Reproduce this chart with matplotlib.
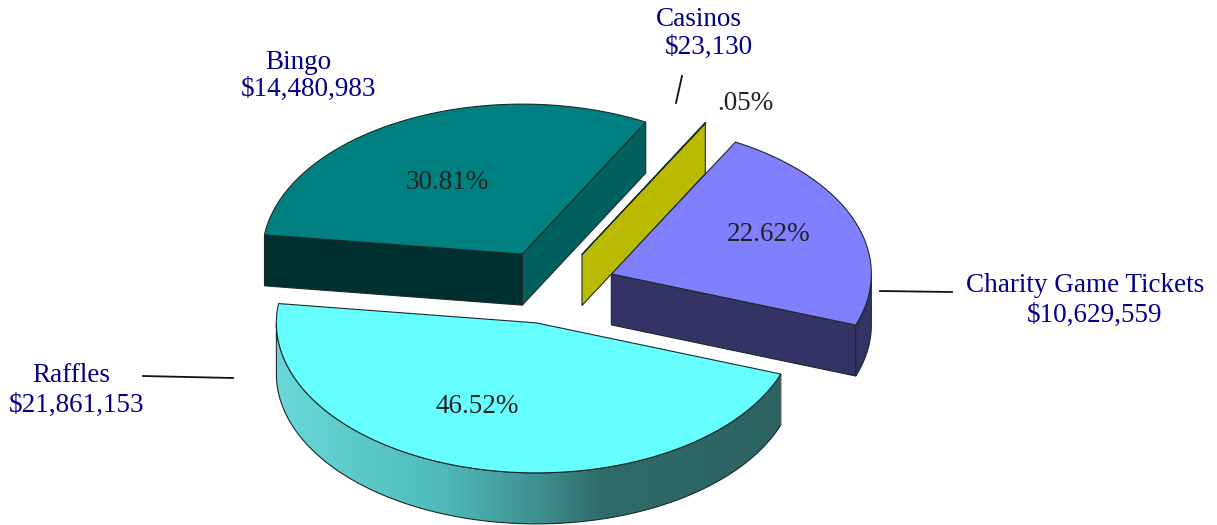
import numpy as np
import matplotlib
matplotlib.use("Agg")
import matplotlib.pyplot as plt
from matplotlib.colors import LinearSegmentedColormap
from matplotlib.patches import Polygon

plt.rcParams['font.family'] = ['Liberation Serif', 'DejaVu Serif']

# order goes round the pie counter clockwise in math terms
categories = ["Raffles", "Charity Game Tickets", "Casinos", "Bingo"]
amounts = [21861153, 10629559, 23130, 14480983]
pct_labels = ["46.52%", "22.62%", ".05%", "30.81%"]
amount_labels = ["$21,861,153", "$10,629,559", "$23,130", "$14,480,983"]

# pie layout in pixels
CX, CY = 551.5, 287
RX, RY = 260, 150
DEPTH = 51
EXPLODE = 64
START = 172.6
EDGE = "#1c2a2a"

top_colors = ["#66ffff", "#8080ff", "#baba00", "#008080"]
start_side = ["#66ffff", "#333366", "#baba00", "#006060"]
end_side = ["#66ffff", "#333366", "#baba00", "#003030"]
wall_colors = [None, "#333366", "#baba00", "#008080"]


def ell(t, ax_x, ax_y):
    t = np.radians(t)
    return np.column_stack([ax_x + RX * np.cos(t), ax_y - RY * np.sin(t)])


def drop(pts):
    return pts + np.array([0, DEPTH])


def draw_slice(ax, i, t0, t1):
    mid = np.radians((t0 + t1) / 2)
    ox = CX + EXPLODE * np.cos(mid)
    oy = CY - EXPLODE * RY / RX * np.sin(mid)
    apex = np.array([[ox, oy]])
    ts = np.linspace(t0, t1, 200)
    arc = ell(ts, ox, oy)

    # flat faces, only the ones looking at us
    a0 = np.vstack([apex, arc[:1]])
    a1 = np.vstack([apex, arc[-1:]])
    if i in (1, 3):
        ax.add_patch(Polygon(np.vstack([a0, drop(a0)[::-1]]), fc=start_side[i], ec=EDGE, lw=0.8, zorder=2 + i))
    if i in (2, 3):
        ax.add_patch(Polygon(np.vstack([a1, drop(a1)[::-1]]), fc=end_side[i], ec=EDGE, lw=0.8, zorder=2 + i))

    # curved wall on the front half
    front = ts[np.sin(np.radians(ts)) < 0.0]
    if len(front) > 1:
        f = ell(front, ox, oy)
        wall = np.vstack([f, drop(f)[::-1]])
        if i == 0:
            cmap = LinearSegmentedColormap.from_list(
                "wall", [(0, "#68d8d8"), (0.33, "#50baba"), (0.52, "#3f8f8f"),
                         (0.65, "#2f6b6a"), (1, "#2b6361")])
            im = ax.imshow(np.linspace(0, 1, 256).reshape(1, -1), cmap=cmap, aspect="auto",
                           extent=(277, 780, 525, 0), zorder=1 + i)
            p = Polygon(wall, fc="none", ec=EDGE, lw=0.8, zorder=2 + i)
            ax.add_patch(p)
            im.set_clip_path(p)
        else:
            ax.add_patch(Polygon(wall, fc=wall_colors[i], ec=EDGE, lw=0.8, zorder=2 + i))

    top = np.vstack([apex, arc])
    ax.add_patch(Polygon(top, fc=top_colors[i], ec=EDGE, lw=0.8, zorder=3 + i))


fig = plt.figure(figsize=(12.17, 5.25), dpi=100)
ax = fig.add_axes([0, 0, 1, 1])

sweeps = 360.0 * np.array(amounts) / sum(amounts)
t = START
for i, s in enumerate(sweeps):
    draw_slice(ax, i, t, t + s)
    t += s

ax.set_xlim(0, 1217)
ax.set_ylim(525, 0)
ax.axis("off")

navy = "#00008b"
dark = "#222222"
fs = 19.5
zt = 20


def label(x, y, s, c):
    ax.text(x, y, s, color=c, fontsize=fs, ha="left", va="baseline", zorder=zt)


label(32, 382, categories[0], navy)
label(9, 412, amount_labels[0], navy)
label(966, 292, categories[1], navy)
label(1027, 322, amount_labels[1], navy)
label(656, 26, categories[2], navy)
label(665, 54, amount_labels[2], navy)
label(265, 69, categories[3], navy)
label(241, 96, amount_labels[3], navy)

label(435, 413, pct_labels[0], dark)
label(727, 241, pct_labels[1], dark)
label(717, 110, pct_labels[2], dark)
label(406, 189, pct_labels[3], dark)

# leader lines
ax.plot([143, 233], [376, 378], color="#111111", lw=1.3, zorder=zt)
ax.plot([880, 952], [291, 292], color="#111111", lw=1.3, zorder=zt)
ax.plot([676, 682], [103, 76], color="#111111", lw=1.3, zorder=zt)

fig.savefig("out.png", dpi=100)
